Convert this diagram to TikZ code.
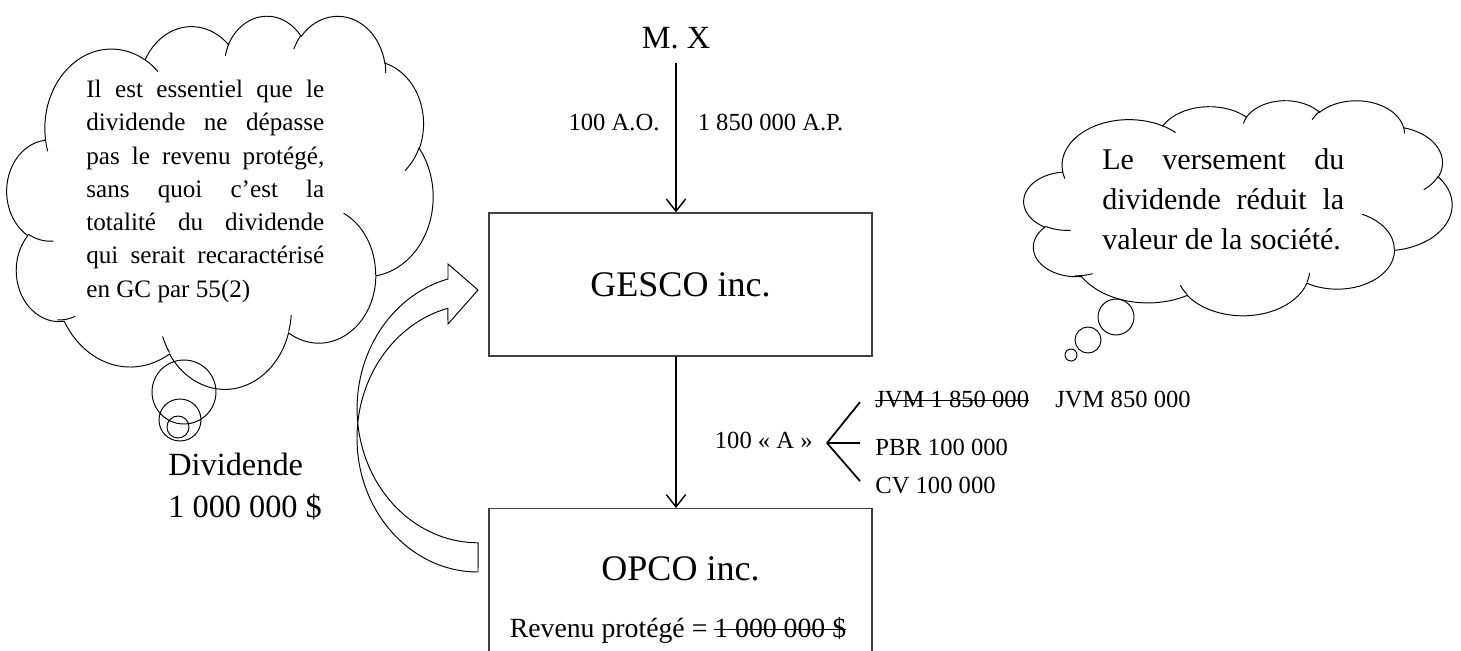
\documentclass[tikz,border=0pt]{standalone}
\usepackage{fontspec}
\setmainfont{Liberation Serif}
\usetikzlibrary{positioning, arrows.meta, calc}
\tolerance=10000
\hbadness=10000

% struck-through text
\newsavebox{\struckbox}
\newcommand{\struckout}[1]{\sbox{\struckbox}{#1}\rlap{\rule[0.24em]{\wd\struckbox}{0.8pt}}\usebox{\struckbox}}

% cloud outline (Word cloud): #1,#2 top left corner, #3 width, #4 height
\newcommand{\cloudshape}[4]{%
  \begin{scope}[shift={(#1,#2)}, xscale=#3/43.2, yscale=#4/43.2]
    \draw[cloudline] (3.9,14.37)
      arc[start angle=172.25, delta angle=128.11, x radius=6.753, y radius=9.19]
      arc[start angle=-152.02, delta angle=106.56, x radius=5.333, y radius=7.267]
      arc[start angle=-153.48, delta angle=116.16, x radius=4.365, y radius=5.945]
      arc[start angle=-139.7, delta angle=129.49, x radius=4.857, y radius=6.595]
      arc[start angle=-74.77, delta angle=97.98, x radius=5.333, y radius=7.273]
      arc[start angle=-37.54, delta angle=119.4, x radius=6.775, y radius=9.22]
      arc[start angle=0.46, delta angle=121.52, x radius=5.785, y radius=7.867]
      arc[start angle=16.85, delta angle=129.4, x radius=6.752, y radius=9.215]
      arc[start angle=58.98, delta angle=91.21, x radius=7.72, y radius=10.543]
      arc[start angle=83.31, delta angle=139.8, x radius=4.36, y radius=5.918]
      arc[start angle=120.36, delta angle=143.75, x radius=4.345, y radius=5.945]
      -- cycle;
    % inner puff arcs
    \draw[cloudline]
      (4.693,26.177) arc[start angle=85.55, delta angle=34.81, x radius=4.345, y radius=5.945]
      (6.928,34.899) arc[start angle=68.23, delta angle=24.51, x radius=4.36, y radius=5.918]
      (16.478,39.09) arc[start angle=146.25, delta angle=13.06, x radius=6.752, y radius=9.215]
      (28.827,34.751) arc[start angle=4.74, delta angle=12.11, x radius=6.752, y radius=9.215]
      (34.129,22.954) arc[start angle=-64.03, delta angle=64.49, x radius=5.785, y radius=7.867]
      (41.798,15.354) arc[start angle=23.21, delta angle=26.44, x radius=5.333, y radius=7.273]
      (38.324,5.426) arc[start angle=-10.21, delta angle=11.03, x radius=4.857, y radius=6.595]
      (29.078,3.952) arc[start angle=-156.29, delta angle=16.59, x radius=4.857, y radius=6.595]
      (22.141,4.72) arc[start angle=-167.73, delta angle=14.25, x radius=4.365, y radius=5.945]
      (14.0,5.192) arc[start angle=-59.64, delta angle=13.88, x radius=6.753, y radius=9.19]
      (4.127,15.789) arc[start angle=163.2, delta angle=9.05, x radius=6.753, y radius=9.19];
  \end{scope}}

\begin{document}
\begin{tikzpicture}[
    x=0.02cm, y=-0.02cm,
    box/.style={draw=black!75, line width=0.75pt, minimum width=7.66cm, inner sep=0pt},
    flow/.style={-{Straight Barb[length=7pt, width=11pt]}, line width=0.8pt},
    branch/.style={line width=1pt},
    small/.style={inner sep=0pt, font=\fontsize{14}{17}\selectfont},
    big/.style={inner sep=0pt, font=\fontsize{18.4}{24}\selectfont},
    company/.style={inner sep=0pt, font=\fontsize{20.5}{24}\selectfont},
    thought/.style={inner sep=0pt, align=justify, anchor=north west},
    cloudline/.style={line width=0.55pt},
    bubble/.style={line width=0.55pt}
    ]

    \useasboundingbox (0,0) rectangle (1461,650);
    \clip (0,0) rectangle (1461,650);

    % Clouds
    \cloudshape{7}{15}{426}{373}
    \cloudshape{1024}{100}{428}{215}
    \draw[bubble] (184,392) circle[radius=32] (180,420) circle[radius=21] (178,427) circle[radius=11];
    \draw[bubble] (1116,317) circle[radius=18] (1088,340) circle[radius=13] (1071,355) circle[radius=6];

    \node[thought, text width=4.76cm, font=\fontsize{14.3}{18.9}\selectfont] (warn) at (86,80)
        {Il est essentiel que le\linebreak dividende ne dépasse\linebreak pas le revenu protégé,\linebreak sans quoi c’est la\linebreak totalité du dividende\linebreak qui serait recaractérisé\linebreak en GC par 55(2)};
    \node[thought, text width=4.84cm, font=\fontsize{17.1}{22.8}\selectfont] (value) at (1102,148)
        {Le versement du\linebreak dividende réduit la\linebreak valeur de la société.};

    % Companies
    \node[big, anchor=base] (mx) at (676,48) {M. X};
    \node[box, company, minimum height=2.86cm] (gesco) at (680.5,284.5) {GESCO inc.};
    \node[box, minimum height=3.44cm, anchor=north] (opco) at (680.5,508) {};
    \node[company, anchor=base] (opconame) at (680.5,580) {OPCO inc.};
    \node[small, font=\fontsize{15.8}{18}\selectfont, anchor=base] (revenu) at (678,637) {Revenu protégé = \struckout{1 000 000 \$}};

    % Arrows
    \draw[flow] ([yshift=-8pt]mx.south) -- (mx.south |- gesco.north)
        node[small, pos=0.45, anchor=base east, xshift=-9pt] (ao) {100 A.O.}
        node[small, pos=0.45, anchor=base west, xshift=12pt] (ap) {1 850 000 A.P.};
    \draw[flow] (mx.south |- gesco.south) -- (mx.south |- opco.north);

    % Shares of OPCO
    \node[small, anchor=base east] (shares) at (813,448) {100 « A »};
    \coordinate (fork) at (827,443);
    \node[small, anchor=base west] (jvmold) at (875,407) {\struckout{JVM 1 850 000}};
    \node[small, anchor=base west] (jvmnew) at (1055,407) {JVM 850 000};
    \node[small, anchor=base west] (pbr) at (875,455) {PBR 100 000};
    \node[small, anchor=base west] (cv) at (875,493) {CV 100 000};
    \draw[branch] (fork) -- ([xshift=-0.3cm, yshift=2.8pt]jvmold.base west);
    \draw[branch] (fork) -- ([xshift=-0.3cm, yshift=6.8pt]pbr.base west);
    \draw[branch] (fork) -- ([xshift=-0.3cm, yshift=6.8pt]cv.base west);

    % Dividend
    \node[big, align=left, anchor=north west] (divlabel) at (168,453) {Dividende\\1 000 000 \$};
    \draw[line width=0.55pt] (448,279) arc[start angle=255.6, end angle=90, x radius=121, y radius=134]
        -- (478,572) arc[start angle=90, end angle=255.6, x radius=121, y radius=134]
        -- (448,324) -- (478,290) -- (448,264) -- cycle;

\end{tikzpicture}
\end{document}
